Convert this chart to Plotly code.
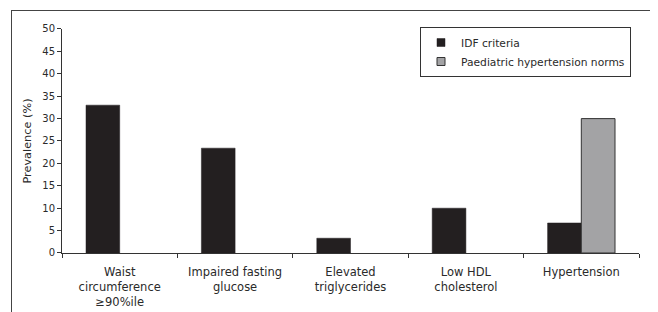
import plotly.graph_objects as go

categories = ["Waist<br>circumference<br>≥90%ile", "Impaired fasting<br>glucose",
              "Elevated<br>triglycerides", "Low HDL<br>cholesterol", "Hypertension"]
idf_values = [33.0, 23.4, 3.3, 10.0, 6.7]
paed_values = [None, None, None, None, 30.0]
y_ticks = [0, 5, 10, 15, 20, 25, 30, 35, 40, 45, 50]

FAM = "DejaVu Sans, Verdana, sans-serif"
TXT = "#2a2a2a"
AXIS = "#333333"
IDF_COLOR = "#231f20"
PAED_COLOR = "#a3a3a5"

fig = go.Figure()
fig.add_trace(go.Bar(x=categories, y=idf_values, name="IDF criteria", showlegend=False,
                     marker=dict(color=IDF_COLOR, line=dict(color=IDF_COLOR, width=0.5))))
fig.add_trace(go.Bar(x=categories, y=paed_values, name="Paediatric hypertension norms",
                     showlegend=False,
                     marker=dict(color=PAED_COLOR, line=dict(color=AXIS, width=1))))
# legend entries with small square swatches
fig.add_trace(go.Scatter(x=[None], y=[None], mode="markers", name="IDF criteria",
                         marker=dict(symbol="square", size=8, color=IDF_COLOR,
                                     line=dict(color=IDF_COLOR, width=0.5))))
fig.add_trace(go.Scatter(x=[None], y=[None], mode="markers", name="Paediatric hypertension norms",
                         marker=dict(symbol="square", size=8, color=PAED_COLOR,
                                     line=dict(color=AXIS, width=1))))
# empty subplot spanning the whole figure, used only to draw the outer frame
fig.add_trace(go.Scatter(x=[None], y=[None], xaxis="x2", yaxis="y2", showlegend=False,
                         hoverinfo="skip"))

# page body has an 8px margin: figure is sized/offset to compensate
fig.update_layout(
    width=650, height=304,
    margin=dict(l=4, r=6, t=3, b=0, autoexpand=False),
    paper_bgcolor="white", plot_bgcolor="rgba(0,0,0,0)",
    font=dict(family=FAM, size=10, color=TXT),
    barmode="group", bargap=0.416, bargroupgap=0,
    showlegend=True,
    legend=dict(x=0.9672, y=0.9468, xanchor="right", yanchor="top",
                bordercolor=AXIS, borderwidth=1, bgcolor="white",
                font=dict(family=FAM, size=10.7, color=TXT),
                itemwidth=30, tracegroupgap=0),
    xaxis=dict(domain=[0.078125, 0.9796875], anchor="y",
               showline=True, linecolor=AXIS, linewidth=1, automargin=False,
               ticks="outside", ticklen=4, tickcolor=AXIS,
               tickson="boundaries", showgrid=False, ticklabelstandoff=8,
               tickfont=dict(family=FAM, size=11.5, color=TXT)),
    yaxis=dict(domain=[0.19601, 0.94020], anchor="x",
               range=[0, 50], tickvals=y_ticks, showline=True, linecolor=AXIS,
               linewidth=1, ticks="outside", ticklen=4, tickcolor=AXIS,
               showgrid=False, zeroline=False, automargin=False,
               title=dict(text="Prevalence (%)", standoff=8,
                          font=dict(family=FAM, size=11.3, color=TXT)),
               tickfont=dict(family=FAM, size=10, color=TXT)),
    xaxis2=dict(domain=[0, 1], anchor="y2", side="top", showline=True, linecolor="#444444",
                linewidth=1, showticklabels=False, ticks="", showgrid=False,
                zeroline=False, range=[0, 1], fixedrange=True),
    yaxis2=dict(domain=[0, 1], anchor="x2", showline=True, mirror=True, linecolor="#444444",
                linewidth=1, showticklabels=False, ticks="", showgrid=False,
                zeroline=False, range=[0, 1], fixedrange=True),
)

fig.write_html("out.html")
